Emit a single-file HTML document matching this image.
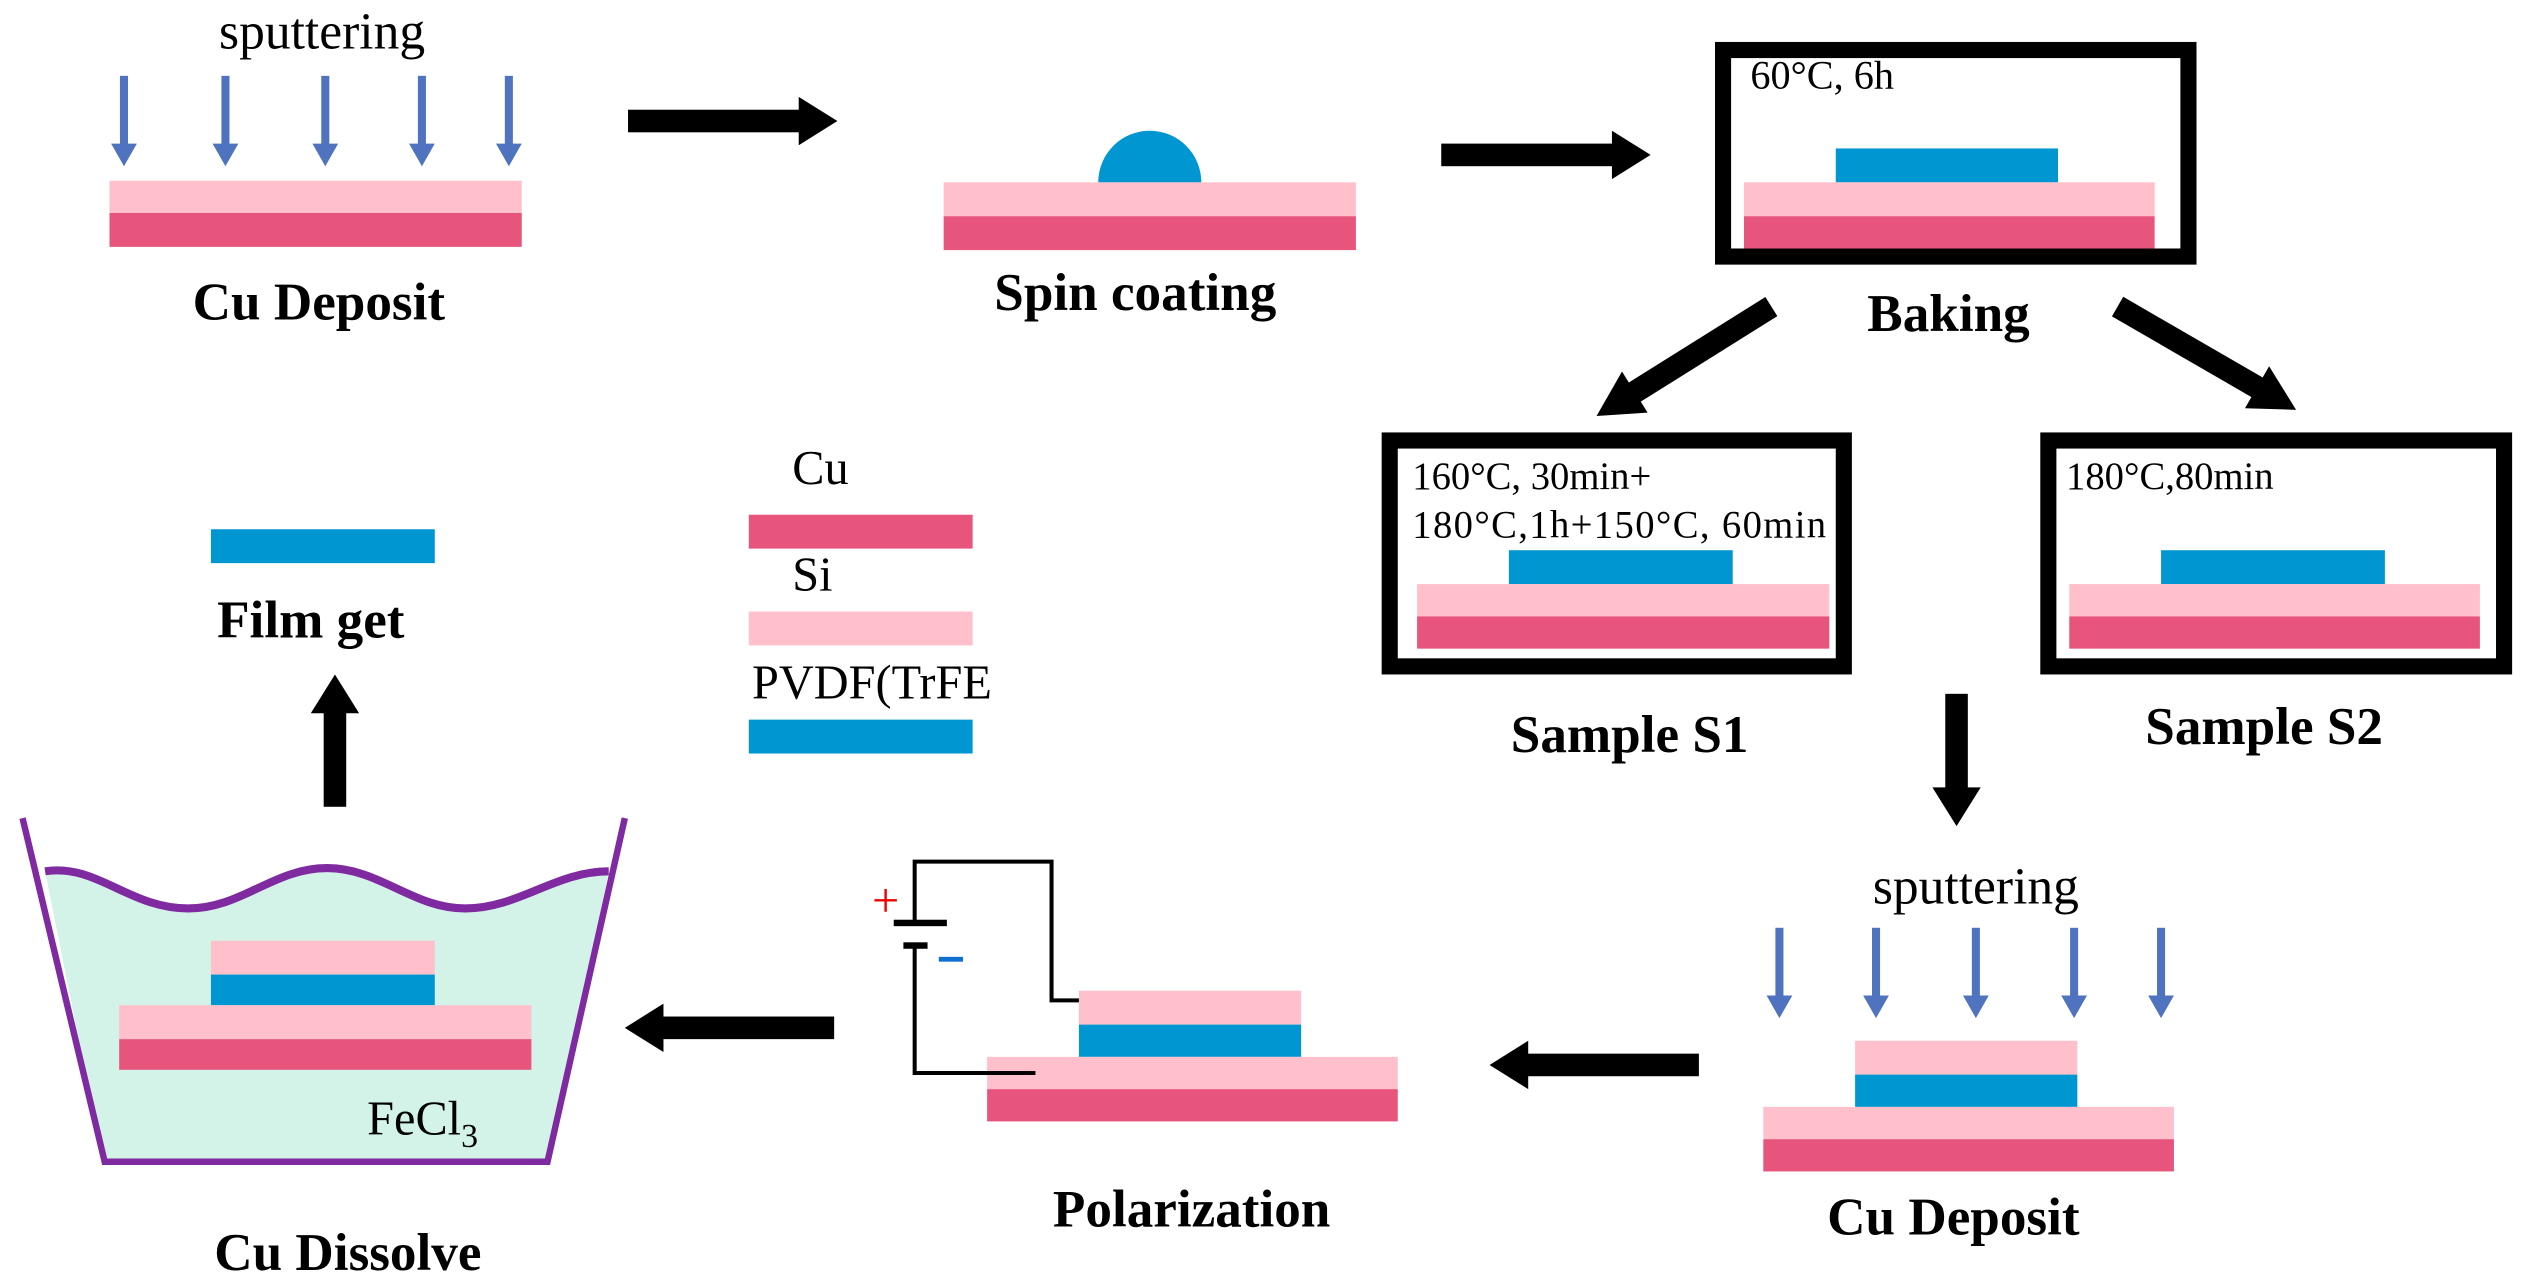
<!DOCTYPE html>
<html><head><meta charset="utf-8"><style>html,body{margin:0;padding:0;background:#fff}svg{display:block}</style></head><body>
<svg width="2525" height="1286" viewBox="0 0 1568 797" preserveAspectRatio="none" xmlns="http://www.w3.org/2000/svg" font-family="'Liberation Serif',serif">
<defs>
<g id="barr"><rect x="-2.5" y="0" width="5" height="44" fill="#4f73be"/><polygon points="-8,42 8,42 0,56" fill="#4f73be"/></g>
<g id="rarr"><rect x="0" y="-7" width="110" height="14" fill="#000"/><polygon points="106,-15 130,0 106,15" fill="#000"/></g>
<g id="sarr"><rect x="0" y="-7" width="62" height="14" fill="#000"/><polygon points="58,-15 82,0 58,15" fill="#000"/></g>
</defs>
<!-- top left -->
<text x="200" y="30" font-size="32" text-anchor="middle">sputtering</text>
<use href="#barr" x="77" y="47"/><use href="#barr" x="140" y="47"/><use href="#barr" x="202" y="47"/><use href="#barr" x="262" y="47"/><use href="#barr" x="316" y="47"/>
<rect x="68" y="112" width="256" height="20" fill="#ffc0cb"/><rect x="68" y="132" width="256" height="21" fill="#e8557c"/>
<text x="198" y="198" font-size="33" font-weight="bold" text-anchor="middle">Cu Deposit</text>
<use href="#rarr" x="390" y="75"/>
<!-- spin -->
<path d="M682,113 A32,32 0 1 1 746,113 Z" fill="#0096d2"/>
<rect x="586" y="113" width="256" height="21" fill="#ffc0cb"/><rect x="586" y="134" width="256" height="21" fill="#e8557c"/>
<text x="705" y="192" font-size="33" font-weight="bold" text-anchor="middle">Spin coating</text>
<use href="#rarr" x="895" y="96"/>
<!-- baking -->
<rect x="1070" y="31" width="289" height="128" fill="none" stroke="#000" stroke-width="10"/>
<text x="1087" y="55" font-size="25">60°C, 6h</text>
<rect x="1140" y="92" width="138" height="21" fill="#0096d2"/>
<rect x="1083" y="113" width="255" height="21" fill="#ffc0cb"/><rect x="1083" y="134" width="255" height="20" fill="#e8557c"/>
<text x="1210" y="205" font-size="33" font-weight="bold" text-anchor="middle">Baking</text>
<!-- diagonal arrows -->
<g transform="translate(1100,190) rotate(148)"><rect x="0" y="-7" width="105" height="14"/><polygon points="100,-15 128,0 100,15"/></g>
<g transform="translate(1315,190) rotate(30)"><rect x="0" y="-7" width="105" height="14"/><polygon points="100,-15 128,0 100,15"/></g>
<!-- S1 -->
<rect x="863" y="273" width="282" height="140" fill="none" stroke="#000" stroke-width="10"/>
<text x="877" y="303" font-size="24">160°C, 30min+</text>
<text x="877" y="333" font-size="24" textLength="257">180°C,1h+150°C, 60min</text>
<rect x="937" y="341" width="139" height="21" fill="#0096d2"/>
<rect x="880" y="362" width="256" height="20" fill="#ffc0cb"/><rect x="880" y="382" width="256" height="20" fill="#e8557c"/>
<text x="1012" y="466" font-size="33" font-weight="bold" text-anchor="middle">Sample S1</text>
<!-- S2 -->
<rect x="1272" y="273" width="283" height="140" fill="none" stroke="#000" stroke-width="10"/>
<text x="1283" y="303" font-size="24">180°C,80min</text>
<rect x="1342" y="341" width="139" height="21" fill="#0096d2"/>
<rect x="1285" y="362" width="255" height="20" fill="#ffc0cb"/><rect x="1285" y="382" width="255" height="20" fill="#e8557c"/>
<text x="1406" y="461" font-size="33" font-weight="bold" text-anchor="middle">Sample S2</text>
<use href="#sarr" transform="translate(1215,430) rotate(90)"/>
<!-- bottom right -->
<text x="1227" y="560" font-size="32" text-anchor="middle">sputtering</text>
<use href="#barr" x="1105" y="575"/><use href="#barr" x="1165" y="575"/><use href="#barr" x="1227" y="575"/><use href="#barr" x="1288" y="575"/><use href="#barr" x="1342" y="575"/>
<rect x="1152" y="645" width="138" height="21" fill="#ffc0cb"/><rect x="1152" y="666" width="138" height="20" fill="#0096d2"/>
<rect x="1095" y="686" width="255" height="20" fill="#ffc0cb"/><rect x="1095" y="706" width="255" height="20" fill="#e8557c"/>
<text x="1213" y="765" font-size="33" font-weight="bold" text-anchor="middle">Cu Deposit</text>
<use href="#rarr" transform="translate(1055,660) rotate(180)"/>
<!-- polarization -->
<rect x="670" y="614" width="138" height="21" fill="#ffc0cb"/><rect x="670" y="635" width="138" height="20" fill="#0096d2"/>
<rect x="613" y="655" width="255" height="20" fill="#ffc0cb"/><rect x="613" y="675" width="255" height="20" fill="#e8557c"/>
<path d="M568,572 V534 H653 V620 H670" fill="none" stroke="#000" stroke-width="2.5"/>
<path d="M568,586 V665 H643" fill="none" stroke="#000" stroke-width="2.5"/>
<rect x="555" y="570" width="33" height="4"/><rect x="561" y="584" width="15" height="4"/>
<text x="550" y="568" font-size="30" fill="#e00" text-anchor="middle">+</text>
<rect x="583" y="593" width="15" height="3" fill="#1070d0"/>
<text x="740" y="760" font-size="33" font-weight="bold" text-anchor="middle">Polarization</text>
<use href="#rarr" transform="translate(518,637) rotate(180)"/>
<!-- beaker -->
<path d="M28,540 C60,535 80,563 117,563 C150,563 170,538 203,538 C236,538 256,563 289,563 C322,563 345,540 378,540 L341,720 L64,720 Z" fill="#d4f3e8"/>
<path d="M28,540 C60,535 80,563 117,563 C150,563 170,538 203,538 C236,538 256,563 289,563 C322,563 345,540 378,540" fill="none" stroke="#7f2aa0" stroke-width="5"/>
<path d="M14,507 L65,720 L340,720 L388,507" fill="none" stroke="#7f2aa0" stroke-width="4"/>
<rect x="131" y="583" width="139" height="21" fill="#ffc0cb"/><rect x="131" y="604" width="139" height="19" fill="#0096d2"/>
<rect x="74" y="623" width="256" height="21" fill="#ffc0cb"/><rect x="74" y="644" width="256" height="19" fill="#e8557c"/>
<text x="228" y="703" font-size="30">FeCl<tspan font-size="21" dy="8">3</tspan></text>
<text x="216" y="787" font-size="33" font-weight="bold" text-anchor="middle">Cu Dissolve</text>
<use href="#sarr" transform="translate(208,500) rotate(-90)"/>
<!-- film -->
<rect x="131" y="328" width="139" height="21" fill="#0096d2"/>
<text x="193" y="395" font-size="33" font-weight="bold" text-anchor="middle">Film get</text>
<!-- legend -->
<text x="492" y="300" font-size="30">Cu</text>
<rect x="465" y="319" width="139" height="21" fill="#e8557c"/>
<text x="492" y="366" font-size="30">Si</text>
<rect x="465" y="379" width="139" height="21" fill="#ffc0cb"/>
<text x="467" y="433" font-size="30">PVDF(TrFE</text>
<rect x="465" y="446" width="139" height="21" fill="#0096d2"/>
</svg>
</body></html>
